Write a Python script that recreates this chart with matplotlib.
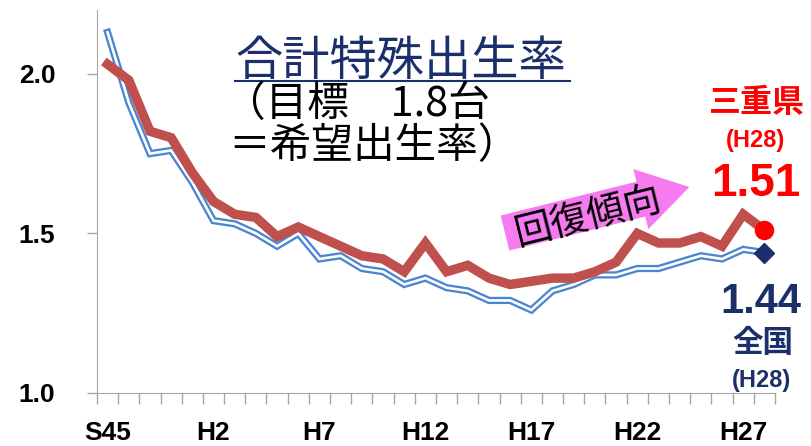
import matplotlib
matplotlib.use("Agg")
import matplotlib.pyplot as plt
from matplotlib.lines import Line2D
from matplotlib.patches import Polygon
from matplotlib.transforms import Affine2D
import numpy as np

# ---------------- data ----------------
categories = ["S45", "S50", "S55", "S60", "S63",
              "H2", "H3", "H4", "H5", "H6", "H7", "H8", "H9", "H10", "H11",
              "H12", "H13", "H14", "H15", "H16", "H17", "H18", "H19", "H20",
              "H21", "H22", "H23", "H24", "H25", "H26", "H27", "H28"]
tick_labels = ["S45", "H2", "H7", "H12", "H17", "H22", "H27"]

zenkoku = [2.13, 1.91, 1.75, 1.76, 1.66, 1.54, 1.53, 1.50, 1.46, 1.50,
           1.42, 1.43, 1.39, 1.38, 1.34, 1.36, 1.33, 1.32, 1.29, 1.29,
           1.26, 1.32, 1.34, 1.37, 1.37, 1.39, 1.39, 1.41, 1.43, 1.42,
           1.45, 1.44]
mie = [2.03, 1.98, 1.82, 1.80, 1.69, 1.60, 1.56, 1.55, 1.49, 1.52,
       1.49, 1.46, 1.43, 1.42, 1.38, 1.47, 1.38, 1.40, 1.36, 1.34,
       1.35, 1.36, 1.36, 1.38, 1.41, 1.50, 1.47, 1.47, 1.49, 1.46,
       1.56, 1.51]

W, H = 812, 446
JP = ["Noto Sans CJK JP", "DejaVu Sans"]
NUM = ["Liberation Sans Narrow", "Liberation Sans", "DejaVu Sans"]
NAVY = "#1B2F6B"
RED = "#FF0000"

fig = plt.figure(figsize=(W / 100, H / 100), dpi=100)
ax = fig.add_axes([97 / W, 53 / H, (775 - 97) / W, (393 - 10) / H])

x = np.arange(len(categories))

# national: double line (blue outline, white core)
ax.plot(x, zenkoku, color="#4A86D0", lw=5.2, solid_joinstyle="miter", zorder=2)
ax.plot(x, zenkoku, color="white", lw=1.9, solid_joinstyle="miter", zorder=3)
ax.plot(x[-1], zenkoku[-1], marker="D", ms=10, color=NAVY, zorder=5)

# Mie
ax.plot(x, mie, color="#C0504D", lw=6.8, solid_joinstyle="miter", zorder=4)
ax.plot(x[-1], mie[-1], marker="o", ms=13, color=RED, mec=RED, zorder=6)

ax.set_xlim(-0.5, len(categories) - 0.5)
ax.set_ylim(1.0, 2.2)

ax.set_yticks([1.0, 1.5, 2.0])
ax.set_yticklabels(["1.0", "1.5", "2.0"], family=NUM, fontsize=19, fontweight="bold")
ax.tick_params(axis="y", length=7, width=1, color="#A6A6A6", pad=23)

ax.set_xticks(x[::5])
ax.set_xticklabels(tick_labels, family=NUM, fontsize=19, fontweight="bold")
ax.set_xticks(np.arange(-0.5, len(categories)), minor=True)
ax.tick_params(axis="x", which="major", length=0, pad=20)
ax.tick_params(axis="x", which="minor", length=8, width=1, color="#A6A6A6", direction="out")

for s in ["top", "right"]:
    ax.spines[s].set_visible(False)
for s in ["left", "bottom"]:
    ax.spines[s].set_color("#A6A6A6")


def px(xp, yp):
    return xp / W, 1 - yp / H


# title block
fig.text(*px(401, 62), "合計特殊出生率", family=JP, fontsize=34, color=NAVY,
         ha="center", va="center")
fig.add_artist(Line2D([235 / W, 570 / W], [1 - 81 / H] * 2, color=NAVY, lw=1.5))
fig.text(*px(224, 104), "（目標　1.8台", family=JP, fontsize=30, color="black",
         ha="left", va="center")
fig.text(*px(228, 147), "＝希望出生率）", family=JP, fontsize=30, color="black",
         ha="left", va="center")

# pink arrow
pix = Affine2D().scale(1 / W, 1 / H) + fig.transFigure
arrow_pts = [(0, -18), (140, -18), (140, -31), (190, 0), (140, 31), (140, 18), (0, 18)]
arrow_tr = Affine2D().rotate_deg(14).translate(505, H - 233) + pix
fig.add_artist(Polygon(arrow_pts, closed=True, facecolor="#F67BEF", edgecolor="none",
                       transform=arrow_tr))
fig.text(*px(588, 217), "回復傾向", family=JP, fontsize=27, color="black",
         rotation=14, ha="center", va="center", rotation_mode="anchor")

# right side labels
fig.text(*px(757, 103), "三重県", family=JP, fontsize=23, fontweight="bold", color=RED,
         ha="center", va="center")
fig.text(*px(756, 140), "(H28)", family=NUM, fontsize=17, fontweight="bold", color=RED,
         ha="center", va="center")
fig.text(*px(756, 184), "1.51", family=NUM, fontsize=33, fontweight="bold", color=RED,
         ha="center", va="center")
fig.text(*px(761, 302), "1.44", family=NUM, fontsize=30, fontweight="bold", color=NAVY,
         ha="center", va="center")
fig.text(*px(763, 343), "全国", family=JP, fontsize=22, fontweight="bold", color=NAVY,
         ha="center", va="center")
fig.text(*px(762, 380), "(H28)", family=NUM, fontsize=17, fontweight="bold", color=NAVY,
         ha="center", va="center")

fig.savefig("out.png", dpi=100)
